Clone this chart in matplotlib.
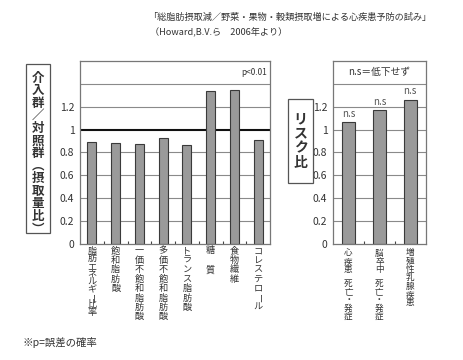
from __future__ import annotations

import matplotlib
matplotlib.use("Agg")
import matplotlib.pyplot as plt
import matplotlib.transforms as mtransforms
import numpy as np
from matplotlib.patches import Rectangle

plt.rcParams["font.family"] = ["Noto Sans CJK JP", "DejaVu Sans"]

W, H = 463, 360
TEXT = "#333333"
GRID = "#8a8a8a"
BAR_FACE = "#9a9a9a"
BAR_EDGE = "#3a3a3a"

# left panel: intake ratio (intervention / control)
intake_labels = [
    "脂肪エネルギー比率", "飽和脂肪酸", "一価不飽和脂肪酸", "多価不飽和脂肪酸",
    "トランス脂肪酸", "糖　質", "食物繊維", "コレステロール",
]
intake_ratio = [0.89, 0.88, 0.87, 0.93, 0.86, 1.34, 1.35, 0.91]

# right panel: risk ratio
risk_labels = ["心疾患 死亡・発症", "脳卒中 死亡・発症", "増殖性乳腺疾患"]
risk_ratio = [1.065, 1.17, 1.26]

grid_levels = [0.2, 0.4, 0.6, 0.8, 1.0, 1.2, 1.4]
tick_values = [0, 0.2, 0.4, 0.6, 0.8, 1.0, 1.2]
tick_labels = ["0", "0.2", "0.4", "0.6", "0.8", "1", "1.2"]

# glyphs that change shape in vertical writing
VERTICAL_FORMS = {"（": "︵", "）": "︶"}


def vertical_text(fig, tr, x, y, text, step, size, **kw):
    """Stack characters top-to-bottom like tategaki."""
    pos = y
    for ch in text:
        if ch == " ":
            pos += step * 0.65
            continue
        ch = VERTICAL_FORMS.get(ch, ch)
        if ch == "ー":
            fig.text(x, pos, ch, transform=tr, rotation=-90,
                     rotation_mode="anchor", ha="center", va="center",
                     fontsize=size, color=TEXT, **kw)
        else:
            fig.text(x, pos, ch, transform=tr, ha="center", va="center",
                     fontsize=size, color=TEXT, **kw)
        pos += step


def draw_panel(ax, values, bar_width, one_line):
    n = len(values)
    x = np.arange(n)
    for g in grid_levels:
        if one_line and g == 1.0:
            ax.axhline(g, color="#111111", lw=1.5, zorder=1)
        else:
            ax.axhline(g, color=GRID, lw=0.8, zorder=1)
    ax.bar(x, values, width=bar_width, color=BAR_FACE, edgecolor=BAR_EDGE,
           linewidth=0.8, zorder=2)
    ax.set_xlim(-0.5, n - 0.5)
    ax.set_ylim(0, 1.6)
    ax.set_xticks([])
    ax.set_xticks(np.arange(0.5, n - 1, 1), minor=True)
    ax.tick_params(axis="x", which="minor", direction="in", length=2,
                   width=0.8, color="#444444")
    ax.set_yticks(tick_values)
    ax.set_yticklabels(tick_labels)
    ax.tick_params(axis="y", length=0, pad=4, labelsize=7.5, labelcolor=TEXT)
    for s in ax.spines.values():
        s.set_color("#777777")
        s.set_linewidth(0.9)
    return x


def make_figure() -> None:
    fig = plt.figure(figsize=(W / 100, H / 100), dpi=100)
    pix = mtransforms.Affine2D().scale(1 / W, -1 / H).translate(0, 1) + fig.transFigure

    def axes_at(x0, x1, y0, y1):
        return fig.add_axes([x0 / W, 1 - y1 / H, (x1 - x0) / W, (y1 - y0) / H])

    ax1 = axes_at(80, 270, 61, 243.7)
    ax2 = axes_at(333, 425.7, 61, 243.7)

    x1 = draw_panel(ax1, intake_ratio, 0.38, True)
    x2 = draw_panel(ax2, risk_ratio, 0.43, False)

    ax1.text(0.985, 1.5, "p<0.01", transform=ax1.get_yaxis_transform(),
             ha="right", va="center", fontsize=6, color=TEXT)
    ax2.text(1, 1.5, "n.s＝低下せず", ha="center", va="center",
             fontsize=7, color=TEXT)
    for xi, v in zip(x2, risk_ratio):
        ax2.text(xi, v + 0.03, "n.s", ha="center", va="bottom",
                 fontsize=7, color="#555555")

    # category labels, written vertically below each bar
    lab1 = mtransforms.blended_transform_factory(ax1.transData, pix)
    for xi, lab in zip(x1, intake_labels):
        step = 7.7 if len(lab) > 8 else 9.4
        vertical_text(fig, lab1, xi, 251, lab, step, 6.6)
    lab2 = mtransforms.blended_transform_factory(ax2.transData, pix)
    for xi, lab in zip(x2, risk_labels):
        vertical_text(fig, lab2, xi, 253, lab, 8.3, 6.2)

    # boxed y-axis titles
    fig.add_artist(Rectangle((26, 233), 24, -169, transform=pix, fill=False,
                             edgecolor="#555555", lw=0.9))
    vertical_text(fig, pix, 38, 78, "介入群／対照群（摂取量比）", 12.6, 9,
                  fontweight="bold")
    fig.add_artist(Rectangle((288, 183), 25, -84, transform=pix, fill=False,
                             edgecolor="#555555", lw=0.9))
    vertical_text(fig, pix, 300.5, 119, "リスク比", 14.5, 10,
                  fontweight="bold")

    fig.text(148, 17, "「総脂肪摂取減／野菜・果物・穀類摂取増による心疾患予防の試み」",
             transform=pix, ha="left", va="center", fontsize=6.6, color=TEXT)
    fig.text(150, 33, "（Howard,B.V.ら　2006年より）", transform=pix,
             ha="left", va="center", fontsize=6.6, color=TEXT)
    fig.text(22, 343, "※p=誤差の確率", transform=pix, ha="left",
             va="center", fontsize=7.5, color=TEXT)

    fig.savefig("out.png", dpi=100, facecolor="white")
    plt.close(fig)


def main() -> None:
    make_figure()


if __name__ == "__main__":
    main()
